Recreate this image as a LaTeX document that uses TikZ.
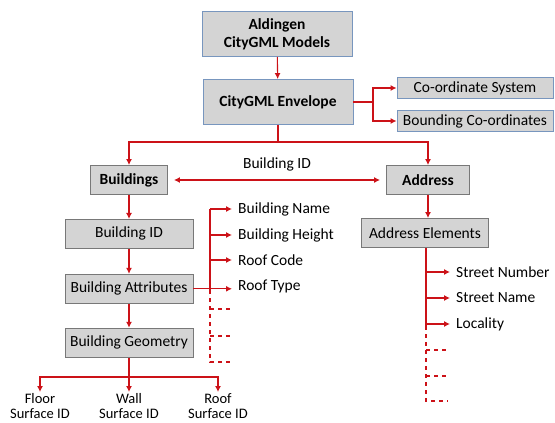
\documentclass[tikz,border=0pt]{standalone}
\usepackage{fontspec}
\setmainfont{Carlito}
\usetikzlibrary{arrows.meta,positioning}

\definecolor{linkred}{RGB}{204,18,24}
\definecolor{boxgray}{RGB}{212,212,212}
\definecolor{blueline}{RGB}{120,150,190}
\definecolor{grayline}{RGB}{120,120,120}

\tikzset{
  box/.style   = {draw=grayline, fill=boxgray, line width=0.9pt, minimum height=29pt, inner sep=2pt, align=center},
  topbox/.style= {box, draw=blueline},
  leaf/.style  = {anchor=west, inner sep=3pt},
  link/.style  = {draw=linkred, line width=1.1pt},
  tip/.style   = {link, -{Latex[length=6pt,width=6pt]}},
  stub/.style  = {link, dash pattern=on 4pt off 4pt}
}

\begin{document}
\begin{tikzpicture}[x=1pt, y=-1pt, font=\fontsize{15.5}{18}\selectfont]
\useasboundingbox (0,0) rectangle (555,423);

\node[topbox, minimum width=150pt, minimum height=45pt] (models)   at (277,34)  {\textbf{Aldingen}\\\textbf{CityGML Models}};
\node[topbox, minimum width=150pt, minimum height=45pt] (envelope) at (278,102) {\textbf{CityGML Envelope}};
\node[topbox, minimum width=156pt, minimum height=21pt] (crs)      at (475,88)  {Co-ordinate System};
\node[topbox, minimum width=156pt, minimum height=21pt] (bounds)   at (475,121) {Bounding Co-ordinates};

\node[box, minimum width=77pt] (buildings) at (129,180) {\textbf{Buildings}};
\node[box, minimum width=83pt] (address)   at (428,180) {\textbf{Address}};

\node[box, minimum width=128pt, below=24pt of buildings] (bid)   {Building ID};
\node[box, minimum width=128pt, below=25pt of bid]       (battr) {Building Attributes};
\node[box, minimum width=128pt, below=24pt of battr]     (bgeom) {Building Geometry};
\node[box, minimum width=127pt] (aelem) at (425,233) {Address Elements};

% attribute leaves
\node[leaf] (bname)   at (235,209) {Building Name};
\node[leaf] (bheight) at (235,235) {Building Height};
\node[leaf] (rcode)   at (235,260) {Roof Code};
\node[leaf] (rtype)   at (235,286) {Roof Type};

% address leaves
\node[leaf] (snumber) at (453,272) {Street Number};
\node[leaf] (sname)   at (453,298) {Street Name};
\node[leaf] (local)   at (453,324) {Locality};

% surfaces
\tikzset{surf/.style={anchor=north, align=center, inner sep=1pt, font=\fontsize{14.5}{15.5}\selectfont}}
\node[surf] (floor) at (40,392)  {Floor\\Surface ID};
\node[surf] (wall)  at (129,392) {Wall\\Surface ID};
\node[surf] (roof)  at (218,392) {Roof\\Surface ID};

\coordinate (split) at (373,102);
\coordinate (fork)  at (278,142);
\coordinate (atrunk) at (210,209);
\coordinate (aend)   at (210,290);
\coordinate (ad1) at (232,309);
\coordinate (ad2) at (232,336);
\coordinate (ad3) at (232,362);
\coordinate (etrunk) at (426,326);
\coordinate (ed1) at (448,350);
\coordinate (ed2) at (448,376);
\coordinate (ed3) at (448,401);
\coordinate (gfork) at (129,377);

\draw[tip] (models) -- (envelope);
\draw[link] (envelope.east) -- (split);
\draw[tip] (split) |- (crs.west);
\draw[tip] (split) |- (bounds.west);

\draw[link] (envelope.south) -- (fork);
\draw[tip] (fork) -| (buildings.north);
\draw[tip] (fork) -| (address.north);
\draw[link, {Latex[length=6pt,width=6pt]}-{Latex[length=6pt,width=6pt]}]
  ([xshift=6pt]buildings.east) -- node[above=5pt] {Building ID} ([xshift=-6pt]address.west);

\draw[tip] (buildings) -- (bid);
\draw[tip] (bid) -- (battr);
\draw[tip] (battr) -- (bgeom);
\draw[tip] (address.south) -- (address.south |- aelem.north);

% attribute branch
\draw[link] (atrunk) -- (aend);
\draw[tip, shorten >=3pt] (atrunk) -- (bname.west);
\draw[tip, shorten >=3pt] (atrunk |- bheight.west) -- (bheight.west);
\draw[tip, shorten >=3pt] (atrunk |- rcode.west) -- (rcode.west);
\draw[tip, shorten >=3pt] (battr.east) -- (battr.east -| rtype.west);
\draw[stub] (aend) |- (ad3);
\draw[stub] (atrunk |- ad1) -- (ad1);
\draw[stub] (atrunk |- ad2) -- (ad2);

% address branch
\draw[link] (aelem.south -| etrunk) -- (etrunk);
\draw[tip, shorten >=3pt] (etrunk |- snumber.west) -- (snumber.west);
\draw[tip, shorten >=3pt] (etrunk |- sname.west) -- (sname.west);
\draw[tip, shorten >=3pt] (etrunk |- local.west) -- (local.west);
\draw[stub] (etrunk) |- (ed3);
\draw[stub] (etrunk |- ed1) -- (ed1);
\draw[stub] (etrunk |- ed2) -- (ed2);

% geometry branch
\draw[link] (bgeom.south) -- (gfork);
\draw[tip] (gfork) -| (floor.north);
\draw[tip] (gfork) -- (wall.north);
\draw[tip] (gfork) -| (roof.north);
\end{tikzpicture}
\end{document}
